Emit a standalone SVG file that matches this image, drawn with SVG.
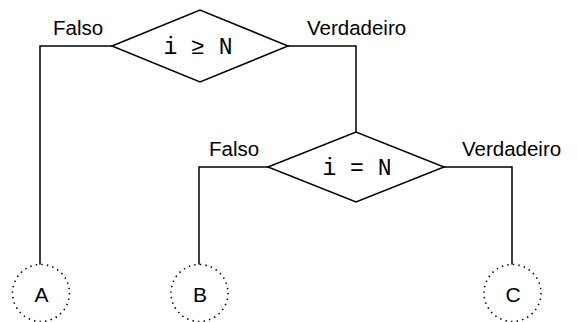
<svg xmlns="http://www.w3.org/2000/svg" width="577" height="322" viewBox="0 0 577 322">
<style>
.d{fill:#fff;stroke:#000;stroke-width:1.5}
.c{fill:#fff;stroke:#000;stroke-width:1.6;stroke-dasharray:1.4 4.2}
.e{fill:none;stroke:#000;stroke-width:1.5}
.l{font-family:"Liberation Sans",Arial,sans-serif;font-size:20.5px;fill:#000}
.m{font-family:"Liberation Mono","Courier New",monospace;font-size:23px;fill:#000;text-anchor:middle}
.n{font-family:"Liberation Sans",Arial,sans-serif;font-size:21px;fill:#000;text-anchor:middle}
</style>
<rect width="577" height="322" fill="#fff"/>
<g id="connectors">
<polyline class="e" points="112,46 40,46 40,265"/>
<polyline class="e" points="288,46 356,46 356,132"/>
<polyline class="e" points="268,167 199,167 199,265"/>
<polyline class="e" points="444,167 512,167 512,265"/>
<text class="l" x="53" y="35">Falso</text>
<text class="l" x="307" y="35">Verdadeiro</text>
<text class="l" x="209" y="156">Falso</text>
<text class="l" x="462" y="156">Verdadeiro</text>
</g>
<g id="d1">
<polygon class="d" points="112,46 200,10 288,46 200,82"/>
<text class="m" x="198" y="54">i ≥ N</text>
</g>
<g id="d2">
<polygon class="d" points="268,167 356,132 444,167 356,202"/>
<text class="m" x="357" y="175">i = N</text>
</g>
<g id="A">
<circle class="c" cx="41" cy="293" r="28.5"/>
<text class="n" x="41.5" y="302">A</text>
</g>
<g id="B">
<circle class="c" cx="199.5" cy="293" r="28.5"/>
<text class="n" x="200" y="302">B</text>
</g>
<g id="C">
<circle class="c" cx="512.5" cy="293" r="28.5"/>
<text class="n" x="513" y="302">C</text>
</g>
</svg>
